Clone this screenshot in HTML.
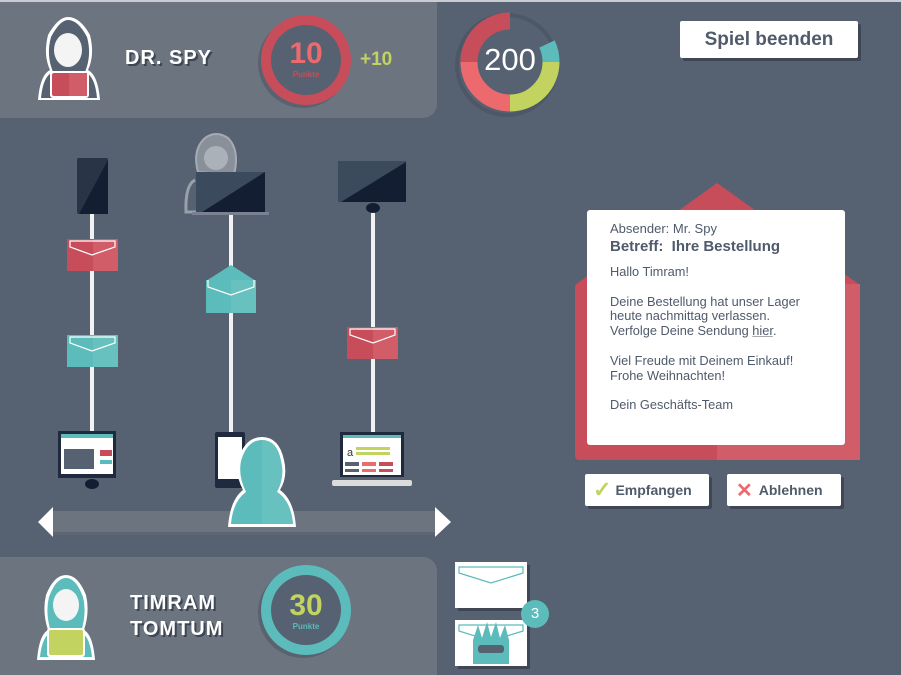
<!DOCTYPE html>
<html><head><meta charset="utf-8"><style>
body{margin:0;width:901px;height:675px;overflow:hidden;background:#566172;font-family:"Liberation Sans",sans-serif;position:relative}
.a{position:absolute}
.t{color:#fff;font-weight:bold;text-shadow:2px 2px 0 #3e4552;letter-spacing:1px}
.btn{position:absolute;background:#fff;border-radius:2px;box-shadow:3px 3px 0 #3f4755;color:#4f5a6b;font-weight:bold;text-align:center}
</style></head><body>
<div class="a" style="left:0;top:0;width:901px;height:2px;background:#c9ccd2"></div>
<div class="a" style="left:0;top:2px;width:437px;height:116px;background:#6c7480;border-bottom-right-radius:14px"></div>
<div class="a" style="left:0;top:557px;width:437px;height:118px;background:#6c7480;border-top-right-radius:14px"></div>

<svg class="a" style="left:0;top:0" width="901" height="675">
<g>
<path d="M38 100 Q40 75 50 70 Q43 55 48 35 Q58 17 68 17 Q80 17 90 35 Q95 55 88 70 Q98 75 100 100 Z" fill="#fff"/>
<path d="M41 98 Q43 76 53 72 Q46 55 51 37 Q60 20 68 20 Q78 20 87 37 Q92 55 85 72 Q95 76 97 98 Z" fill="#566172"/>
<ellipse cx="68" cy="50" rx="14" ry="17" fill="#f4f4f4"/>
<rect x="50" y="71" width="39" height="27" rx="3" fill="#fff"/>
<rect x="52" y="73" width="35" height="23" rx="2" fill="#c84d5a"/>
<rect x="69" y="73" width="18" height="23" fill="#d05d67"/>
</g>
<circle cx="303" cy="63" r="45" fill="#5a6270"/>
<circle cx="306" cy="60" r="45" fill="#c84d5a"/>
<circle cx="306" cy="60" r="35" fill="#566172"/>
<!-- donut -->
<circle cx="507" cy="65" r="50" fill="none" stroke="#4e5766" stroke-width="4"/>
<g fill="none" stroke-width="17">
<path d="M510 21 A41 41 0 0 0 469 62" stroke="#c84d5a"/>
<path d="M469 62 A41 41 0 0 0 510 103" stroke="#ec6a6e"/>
<path d="M510 103 A41 41 0 0 0 551 62" stroke="#c3d35f"/>
<path d="M551 62 A41 41 0 0 0 547 44" stroke="#5bbcbb"/>
</g>
<g stroke="#f2f2f2" stroke-width="4"><line x1="92" y1="210" x2="92" y2="432"/><line x1="231" y1="210" x2="231" y2="432"/><line x1="373" y1="205" x2="373" y2="432"/></g>
<g opacity="0.75"><path d="M198 172 Q192 150 205 138 Q216 130 228 138 Q240 150 234 175 Z" fill="#9aa0a8" stroke="#c0c4ca" stroke-width="2"/><ellipse cx="216" cy="158" rx="12" ry="12" fill="#c8ccd1"/>
<path d="M195 180 Q185 185 186 212 L196 212" fill="none" stroke="#b0b5bc" stroke-width="3"/></g>
<rect x="77" y="158" width="31" height="56" rx="2" fill="#2a3447"/><polygon points="108,160 108,214 79,214" fill="#141e33"/>
<rect x="196" y="172" width="69" height="42" fill="#3c4a5e"/><polygon points="265,172 265,214 199,214" fill="#141e33"/><rect x="192" y="212" width="77" height="3" fill="#7a8190"/>
<rect x="338" y="161" width="68" height="41" fill="#3c4a5e"/><polygon points="406,162 406,202 341,202" fill="#141e33"/><ellipse cx="373" cy="208" rx="7" ry="5" fill="#141e33"/>
<g>
<rect x="67" y="239" width="51" height="32" fill="#c84d5a"/><rect x="93" y="239" width="25" height="32" fill="#d05d67"/><path d="M70 241 L70 247 L92 255 L115 247 L115 241 Z" fill="none" stroke="#fff" stroke-width="1.2"/>
<rect x="67" y="335" width="51" height="32" fill="#5bbcbb"/><rect x="93" y="335" width="25" height="32" fill="#67c2bf"/><path d="M70 337 L70 343 L92 351 L115 343 L115 337 Z" fill="none" stroke="#fff" stroke-width="1.2"/>
<polygon points="206,281 231,265 256,281" fill="#5bbcbb"/><rect x="206" y="280" width="50" height="33" fill="#5bbcbb"/><rect x="231" y="280" width="25" height="33" fill="#67c2bf"/><path d="M208 280 L208 287 L231 295 L254 287 L254 280" fill="none" stroke="#fff" stroke-width="1.2"/>
<rect x="347" y="327" width="51" height="32" fill="#c84d5a"/><rect x="373" y="327" width="25" height="32" fill="#d05d67"/><path d="M350 329 L350 335 L373 343 L395 335 L395 329 Z" fill="none" stroke="#fff" stroke-width="1.2"/>
</g>
<rect x="58" y="431" width="58" height="47" fill="#1f2a3e"/><rect x="61" y="434" width="52" height="40" fill="#fff"/><rect x="61" y="434" width="52" height="4" fill="#5bbcbb"/><rect x="64" y="449" width="30" height="20" fill="#566172"/><rect x="100" y="450" width="12" height="6" fill="#c84d5a"/><rect x="100" y="460" width="12" height="4" fill="#5bbcbb"/><ellipse cx="92" cy="484" rx="7" ry="5" fill="#141e33"/>
<rect x="215" y="432" width="30" height="56" rx="2" fill="#1f2a3e"/><rect x="218" y="437" width="24" height="42" fill="#fff"/>
<rect x="340" y="432" width="64" height="45" fill="#1f2a3e"/><rect x="343" y="435" width="58" height="40" fill="#fff"/><rect x="343" y="435" width="58" height="3" fill="#5bbcbb"/><rect x="356" y="447" width="34" height="3" fill="#c3d35f"/><rect x="356" y="452" width="34" height="3" fill="#c3d35f"/><rect x="345" y="462" width="14" height="4" fill="#566172"/><rect x="362" y="462" width="14" height="4" fill="#ec6a6e"/><rect x="379" y="462" width="14" height="4" fill="#c84d5a"/><rect x="345" y="469" width="14" height="3" fill="#566172"/><rect x="362" y="469" width="14" height="3" fill="#ec6a6e"/><rect x="379" y="469" width="14" height="3" fill="#c84d5a"/><text x="347" y="456" font-size="11" fill="#333">a</text>
<rect x="332" y="480" width="80" height="6" rx="2" fill="#dcdcdc"/>
<rect x="52" y="511" width="383" height="24" fill="#6c7480"/><rect x="52" y="532" width="383" height="3" fill="#5e6674"/>
<polygon points="53,507 53,537 38,522" fill="#fff"/><polygon points="435,507 435,537 451,522" fill="#fff"/>
<path d="M228 527 Q230 500 243 490 Q235 475 238 460 Q245 437 262 437 Q279 437 284 460 Q288 477 280 490 Q294 500 296 527 Z" fill="#fff"/>
<path d="M231 524 Q233 501 246 492 Q238 476 241 461 Q247 440 262 440 Q277 440 281 461 Q285 477 277 492 Q291 501 293 524 Z" fill="#5bbcbb"/>
<path d="M262 440 Q277 440 281 461 Q285 477 277 492 Q291 501 293 524 L262 524 Z" fill="#67c2bf"/>
<polygon points="575,285 717,183 860,285" fill="#c84d5a"/><rect x="575" y="284" width="285" height="176" rx="4" fill="#c84d5a"/><rect x="717" y="284" width="143" height="176" fill="#d05d67"/>
<rect x="587" y="210" width="258" height="235" rx="3" fill="#fff"/>
<path d="M37 660 Q39 635 48 630 Q42 612 46 595 Q54 575 66 575 Q78 575 86 595 Q90 612 84 630 Q93 635 95 660 Z" fill="#fff"/>
<path d="M40 657 Q42 637 51 632 Q45 613 49 597 Q56 578 66 578 Q76 578 83 597 Q87 613 81 632 Q90 637 92 657 Z" fill="#5bbcbb"/>
<ellipse cx="66" cy="605" rx="13" ry="16" fill="#f4f4f4"/>
<rect x="47" y="628" width="38" height="29" rx="3" fill="#fff"/><rect x="49" y="630" width="34" height="25" rx="2" fill="#c3d35f"/>
<circle cx="303" cy="613" r="45" fill="#5a6270"/>
<circle cx="306" cy="610" r="45" fill="#5bbcbb"/><circle cx="306" cy="610" r="35" fill="#566172"/>
<rect x="458" y="565" width="72" height="46" fill="#3f4755"/><rect x="455" y="562" width="72" height="46" fill="#fff"/><path d="M459 567 L459 573 L491 583 L523 573 L523 567 Z" fill="none" stroke="#5bbcbb" stroke-width="1.2"/>
<rect x="458" y="623" width="72" height="46" fill="#3f4755"/><rect x="455" y="620" width="72" height="46" fill="#fff"/><path d="M459 625 L459 631 L491 641 L523 631 L523 625 Z" fill="none" stroke="#5bbcbb" stroke-width="1.2"/>
<path d="M473 664 L473 640 L478 625 L482 638 L487 622 L491 637 L496 622 L500 638 L505 625 L509 640 L509 664 Z" fill="#5bbcbb"/><rect x="478" y="645" width="26" height="8" rx="3" fill="#566172"/>
<circle cx="535" cy="614" r="14" fill="#5bbcbb"/>
</svg>

<div class="a t" style="left:125px;top:47px;font-size:20px">DR. SPY</div>
<div class="a" style="left:276px;top:38px;width:60px;text-align:center;color:#ec6a6e;font-weight:bold;font-size:30px;line-height:32px">10</div>
<div class="a" style="left:276px;top:70px;width:60px;text-align:center;color:#c84d5a;font-weight:bold;font-size:8px">Punkte</div>
<div class="a" style="left:360px;top:49px;color:#c3d35f;font-weight:bold;font-size:19px">+10</div>
<div class="a" style="left:470px;top:42px;width:80px;text-align:center;color:#fff;font-size:31px">200</div>
<div class="btn" style="left:680px;top:21px;width:178px;height:37px;line-height:37px;font-size:19px">Spiel beenden</div>

<div class="a" style="left:610px;top:221px;width:230px;color:#4f5a6b;font-size:13px;line-height:15px">
<div>Absender: Mr. Spy</div>
<div style="font-weight:bold;font-size:15px;line-height:21px">Betreff:&nbsp; Ihre Bestellung</div>
<div style="margin-top:8px;font-size:12.8px;line-height:14.8px">Hallo Timram!<br><br>Deine Bestellung hat unser Lager<br>heute nachmittag verlassen.<br>Verfolge Deine Sendung <span style="text-decoration:underline;text-decoration-color:#aaa">hier</span>.<br><br>Viel Freude mit Deinem Einkauf!<br>Frohe Weihnachten!<br><br>Dein Geschäfts-Team</div>
</div>
<div class="btn" style="left:585px;top:474px;width:124px;height:32px;line-height:32px;font-size:14px;text-align:left"><span style="color:#c3d35f;font-size:22px;margin:0 4px 0 8px;vertical-align:-2px">✓</span>Empfangen</div>
<div class="btn" style="left:727px;top:474px;width:114px;height:32px;line-height:32px;font-size:14px;text-align:left"><span style="color:#ec6a6e;font-size:20px;margin:0 6px 0 9px;vertical-align:-2px">✕</span>Ablehnen</div>

<div class="a t" style="left:130px;top:590px;font-size:20px;line-height:26px">TIMRAM<br>TOMTUM</div>
<div class="a" style="left:276px;top:590px;width:60px;text-align:center;color:#c3d35f;font-weight:bold;font-size:30px;line-height:32px">30</div>
<div class="a" style="left:276px;top:622px;width:60px;text-align:center;color:#5bbcbb;font-weight:bold;font-size:8px">Punkte</div>
<div class="a" style="left:521px;top:605px;width:28px;text-align:center;color:#fff;font-size:15px">3</div>
</body></html>
